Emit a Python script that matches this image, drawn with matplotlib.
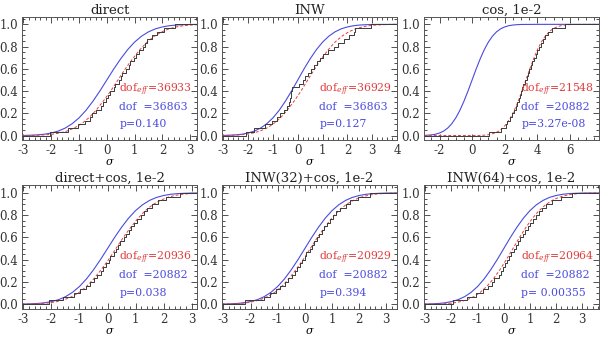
import numpy as np
import matplotlib
matplotlib.use("Agg")
import matplotlib.pyplot as plt
from matplotlib.ticker import MultipleLocator, AutoMinorLocator

plt.rcParams["font.family"] = ["DejaVu Serif"]
plt.rcParams["mathtext.fontset"] = "dejavuserif"

titles = ["direct", "INW", "cos, 1e-2",
          "direct+cos, 1e-2", "INW(32)+cos, 1e-2", "INW(64)+cos, 1e-2"]
dof_eff = ["36933", "36929", "21548", "20936", "20929", "20964"]
dof = ["36863", "36863", "20882", "20882", "20882", "20882"]
pvals = ["p=0.140", "p=0.127", "p=3.27e-08", "p=0.038", "p=0.394", "p= 0.00355"]
xlims = [(-3.05, 3.25), (-3.05, 4.0), (-2.95, 7.8),
         (-3.05, 3.2), (-3.05, 3.4), (-3.05, 3.65)]
xmajor = [1, 1, 2, 1, 1, 1]

# blue: reference gaussian CDF
blue_x = [-3.0, -2.75, -2.5, -2.25, -2.0, -1.75, -1.5, -1.25, -1.0, -0.75, -0.5, -0.25,
          0.0, 0.25, 0.5, 0.75, 1.0, 1.25, 1.5, 1.75, 2.0, 2.25, 2.5, 2.75, 3.0, 4.0, 8.0]
blue_y = [0.001, 0.003, 0.006, 0.012, 0.023, 0.040, 0.067, 0.106, 0.159, 0.227, 0.309, 0.401,
          0.500, 0.599, 0.691, 0.773, 0.841, 0.894, 0.933, 0.960, 0.977, 0.988, 0.994, 0.997,
          0.999, 1.0, 1.0]

# red dashed: x positions where each panel's curve crosses these levels
red_levels = [0.001, 0.003, 0.006, 0.012, 0.023, 0.040, 0.067, 0.106, 0.159, 0.227, 0.309,
              0.401, 0.500, 0.599, 0.691, 0.773, 0.841, 0.894, 0.933, 0.960, 0.977, 0.988,
              0.994, 0.997, 0.999]
red_x = [
    [-2.75, -2.49, -2.23, -1.96, -1.70, -1.44, -1.18, -0.91, -0.65, -0.39, -0.13, 0.14, 0.40,
     0.66, 0.93, 1.19, 1.45, 1.71, 1.98, 2.24, 2.50, 2.76, 3.03, 3.29, 3.55],
    [-2.90, -2.63, -2.35, -2.08, -1.80, -1.53, -1.25, -0.98, -0.70, -0.43, -0.15, 0.13, 0.40,
     0.68, 0.95, 1.23, 1.50, 1.78, 2.05, 2.33, 2.60, 2.88, 3.15, 3.43, 3.70],
    [0.45, 0.69, 0.93, 1.16, 1.40, 1.64, 1.88, 2.11, 2.35, 2.59, 2.83, 3.06, 3.30,
     3.54, 3.78, 4.01, 4.25, 4.49, 4.73, 4.96, 5.20, 5.44, 5.68, 5.91, 6.15],
    [-2.85, -2.59, -2.33, -2.06, -1.80, -1.54, -1.28, -1.01, -0.75, -0.49, -0.23, 0.04, 0.30,
     0.56, 0.83, 1.09, 1.35, 1.61, 1.88, 2.14, 2.40, 2.66, 2.93, 3.19, 3.45],
    [-2.95, -2.69, -2.43, -2.16, -1.90, -1.64, -1.38, -1.11, -0.85, -0.59, -0.33, -0.06, 0.20,
     0.46, 0.73, 0.99, 1.25, 1.51, 1.78, 2.04, 2.30, 2.56, 2.83, 3.09, 3.35],
    [-2.65, -2.40, -2.15, -1.90, -1.65, -1.40, -1.15, -0.90, -0.65, -0.40, -0.15, 0.10, 0.35,
     0.60, 0.85, 1.10, 1.35, 1.60, 1.85, 2.10, 2.35, 2.60, 2.85, 3.10, 3.35],
]

# black: sorted sample values (empirical CDF)
samples = [
    [-2.05, -1.40, -1.02, -0.80, -0.62, -0.55, -0.38, -0.22, -0.15, -0.02, 0.05, 0.12, 0.25,
     0.30, 0.42, 0.50, 0.56, 0.70, 0.78, 0.85, 0.98, 1.05, 1.15, 1.30, 1.38, 1.45, 1.62,
     1.80, 2.05, 2.45],
    [-2.10, -1.75, -1.30, -1.05, -0.85, -0.70, -0.55, -0.45, -0.35, -0.30, -0.28, -0.26, -0.25,
     0.05, 0.20, 0.30, 0.42, 0.55, 0.65, 0.78, 0.90, 1.00, 1.20, 1.45, 1.60, 1.85, 2.05,
     2.25, 2.30, 2.95],
    [1.05, 1.75, 2.05, 2.12, 2.35, 2.42, 2.60, 2.70, 2.78, 2.88, 2.95, 3.00, 3.08, 3.15, 3.22,
     3.35, 3.45, 3.52, 3.60, 3.70, 3.78, 3.90, 3.98, 4.10, 4.20, 4.32, 4.45, 4.65, 4.90, 5.70],
    [-2.10, -1.60, -1.20, -0.98, -0.75, -0.62, -0.50, -0.38, -0.25, -0.15, -0.05, 0.05, 0.10,
     0.22, 0.30, 0.38, 0.45, 0.58, 0.65, 0.78, 0.85, 0.95, 1.05, 1.20, 1.30, 1.42, 1.60,
     1.80, 2.10, 2.60],
    [-2.20, -1.50, -1.30, -1.05, -0.90, -0.72, -0.62, -0.48, -0.38, -0.30, -0.18, -0.10, 0.02,
     0.05, 0.18, 0.25, 0.35, 0.45, 0.52, 0.62, 0.72, 0.82, 0.92, 1.02, 1.15, 1.30, 1.50,
     1.65, 1.95, 2.40],
    [-1.95, -1.40, -1.05, -0.80, -0.62, -0.45, -0.38, -0.20, -0.10, -0.02, 0.05, 0.12, 0.20,
     0.28, 0.38, 0.45, 0.55, 0.62, 0.72, 0.80, 0.92, 1.00, 1.10, 1.22, 1.35, 1.45, 1.62,
     1.85, 2.20, 2.60],
]

RED = "#e23c3c"
BLUE = "#4a4ae0"

fig = plt.figure(figsize=(6.0, 3.41), dpi=100)
lefts = [0.0367, 0.370, 0.7067]
bottoms = [0.5894, 0.095]

for i in range(6):
    row, col = divmod(i, 3)
    ax = fig.add_axes([lefts[col], bottoms[row], 0.292, 0.362])
    lo, hi = xlims[i]

    ax.plot(blue_x, blue_y, color=BLUE, lw=0.8)
    ax.plot([lo] + red_x[i] + [hi], [0.0] + red_levels + [1.0],
            color=RED, lw=0.7, dashes=(3, 2))
    s = samples[i]
    n = len(s)
    ax.step([lo] + s + [hi], np.r_[0.0, np.arange(1, n + 1) / n, 1.0],
            where="post", color="#3a3a3a", lw=0.7)

    ax.set_xlim(lo, hi)
    ax.set_ylim(-0.04, 1.07)
    ax.xaxis.set_major_locator(MultipleLocator(xmajor[i]))
    ax.xaxis.set_minor_locator(AutoMinorLocator(5 if xmajor[i] == 1 else 4))
    ax.yaxis.set_major_locator(MultipleLocator(0.2))
    ax.yaxis.set_minor_locator(AutoMinorLocator(4))
    ax.tick_params(which="both", direction="in", top=True, right=True,
                   labelsize=8.5, width=0.6, colors="#333333", pad=3)
    ax.tick_params(which="major", length=4)
    ax.tick_params(which="minor", length=2)
    ax.yaxis.set_major_formatter(plt.FormatStrFormatter("%.1f"))
    ax.xaxis.set_major_formatter(plt.FuncFormatter(lambda v, p: "%d" % round(v)))
    for sp in ax.spines.values():
        sp.set_linewidth(0.7)
        sp.set_color("#555555")

    ax.set_title(titles[i], fontsize=9.5, pad=2, color="#222222")
    ax.set_xlabel(r"$\sigma$", fontsize=8, labelpad=0)

    tx = 0.555
    ax.text(tx, 0.41, r"dof$_{eff}$=" + dof_eff[i], color=RED, fontsize=7.8,
            transform=ax.transAxes, va="center")
    ax.text(tx, 0.27, "dof  =" + dof[i], color=BLUE, fontsize=7.8,
            transform=ax.transAxes, va="center")
    ax.text(tx, 0.13, pvals[i], color=BLUE, fontsize=7.8,
            transform=ax.transAxes, va="center")

fig.savefig("out.png", dpi=100)
